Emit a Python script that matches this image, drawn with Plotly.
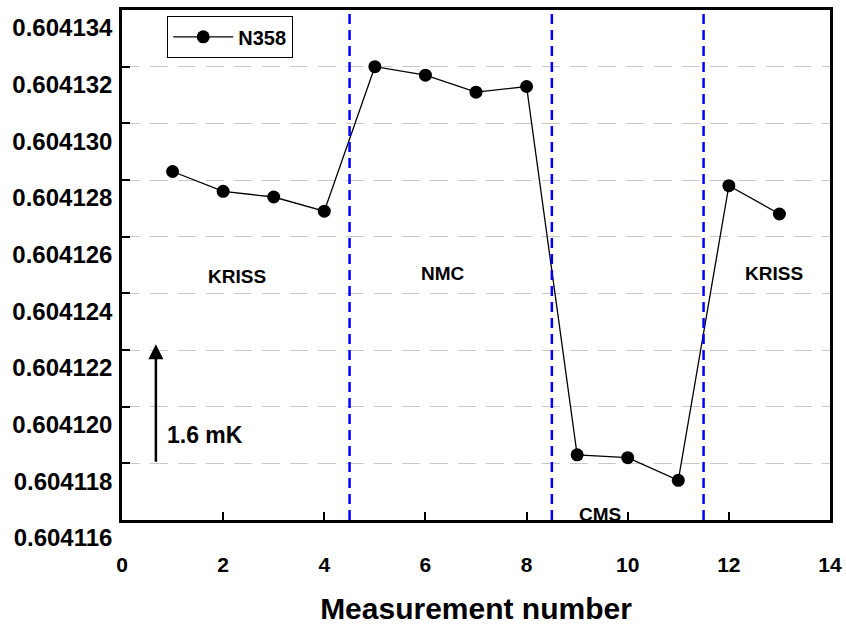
import plotly.graph_objects as go

measurement = [1, 2, 3, 4, 5, 6, 7, 8, 9, 10, 11, 12, 13]
ratio = [0.6041283, 0.6041276, 0.6041274, 0.6041269, 0.6041320, 0.6041317,
         0.6041311, 0.6041313, 0.6041183, 0.6041182, 0.6041174, 0.6041278, 0.6041268]
series_name = "N358"
boundaries = [4.5, 8.5, 11.5]
region_labels = ["KRISS", "NMC", "CMS", "KRISS"]
region_x = [2.27, 6.35, 9.45, 12.9]
region_y = [0.6041246, 0.6041247, 0.6041162, 0.6041247]
y_ticks = [0.604116, 0.604118, 0.604120, 0.604122, 0.604124, 0.604126,
           0.604128, 0.604130, 0.604132, 0.604134]
x_ticks = [0, 2, 4, 6, 8, 10, 12, 14]
arrow_x = 0.67
arrow_y0, arrow_y1 = 0.604118, 0.6041222
arrow_text = "1.6 mK"

FONT = "Arial, Liberation Sans, sans-serif"

fig = go.Figure()
fig.add_trace(go.Scatter(
    x=measurement, y=ratio, mode="lines+markers", name=series_name,
    line=dict(color="black", width=1.3),
    marker=dict(color="black", size=13),
))

for b in boundaries:
    fig.add_shape(type="line", x0=b, x1=b, y0=0, y1=1, xref="x", yref="paper",
                  line=dict(color="#0000ff", width=2.5, dash="10px,6px"))

for t, x, y in zip(region_labels, region_x, region_y):
    fig.add_annotation(x=x, y=y, text="<b>%s</b>" % t, showarrow=False,
                       font=dict(family=FONT, size=19, color="black"))

fig.add_annotation(x=arrow_x, y=arrow_y1, ax=arrow_x, ay=arrow_y0,
                   xref="x", yref="y", axref="x", ayref="y",
                   showarrow=True, arrowhead=2, arrowsize=1.2, arrowwidth=2.5,
                   arrowcolor="black", text="")
fig.add_annotation(x=1.65, y=0.604119, text="<b>%s</b>" % arrow_text, showarrow=False,
                   font=dict(family=FONT, size=23, color="black"))

fig.update_layout(
    width=846, height=625,
    margin=dict(l=122, r=16, t=10, b=105),
    paper_bgcolor="white", plot_bgcolor="white",
    font=dict(family=FONT, color="black"),
    showlegend=True,
    legend=dict(x=0.0636, y=0.988, xanchor="left", yanchor="top",
                bordercolor="black", borderwidth=1.2, bgcolor="white",
                font=dict(family=FONT, size=20, color="black", weight="bold"),
                itemwidth=60, tracegroupgap=0),
    xaxis=dict(range=[0, 14], tickvals=x_ticks, ticktext=[str(v) for v in x_ticks],
               showgrid=False, zeroline=False, automargin=False,
               showline=True, linecolor="black", linewidth=2.5, mirror=True,
               ticks="inside", ticklen=8, tickwidth=2, tickcolor="black",
               tickfont=dict(family=FONT, size=21, color="black", weight="bold"),
               ticklabelstandoff=24,
               title=dict(text="<b>Measurement number</b>", standoff=32,
                          font=dict(family=FONT, size=30, color="black"))),
    yaxis=dict(range=[0.604116 - 1e-10, 0.604134 + 1e-10], tickvals=y_ticks,
               ticktext=["%.6f" % v for v in y_ticks],
               showgrid=True, gridcolor="#c8c8c8", gridwidth=1, griddash="18px,10px",
               zeroline=False, automargin=False,
               showline=True, linecolor="black", linewidth=2.5, mirror=True,
               ticks="inside", ticklen=8, tickwidth=2, tickcolor="black",
               tickfont=dict(family=FONT, size=24, color="black", weight="bold"),
               ticklabelstandoff=2, ticklabelshift=18),
)

fig.write_html("out.html")
